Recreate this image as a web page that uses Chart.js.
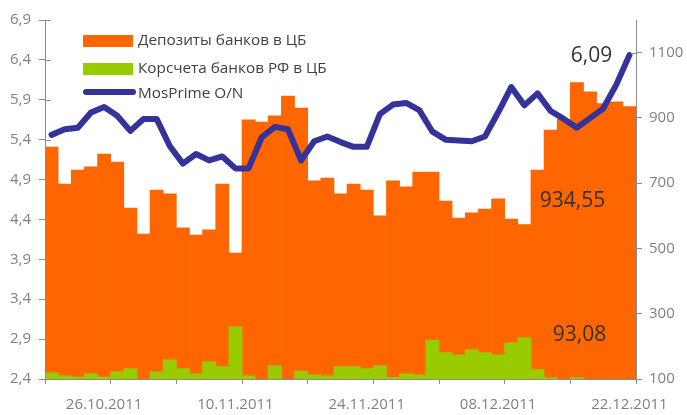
<!DOCTYPE html>
<html>
<head>
<meta charset="utf-8">
<script src="https://cdn.jsdelivr.net/npm/chart.js@4/dist/chart.umd.min.js"></script>
<style>
html,body{margin:0;padding:0;background:#fff;}
#wrap{width:687px;height:415px;position:relative;}
</style>
</head>
<body>
<div id="wrap"><canvas id="c" width="687" height="415"></canvas></div>
<script>
const dates = ['20.10.2011','21.10.2011','24.10.2011','25.10.2011','26.10.2011','27.10.2011','28.10.2011','31.10.2011',
'01.11.2011','02.11.2011','03.11.2011','07.11.2011','08.11.2011','09.11.2011','10.11.2011','11.11.2011',
'14.11.2011','15.11.2011','16.11.2011','17.11.2011','18.11.2011','21.11.2011','22.11.2011','23.11.2011','24.11.2011',
'25.11.2011','28.11.2011','29.11.2011','30.11.2011','01.12.2011','02.12.2011','05.12.2011','06.12.2011','07.12.2011','08.12.2011',
'09.12.2011','12.12.2011','13.12.2011','14.12.2011','15.12.2011','16.12.2011','19.12.2011','20.12.2011','21.12.2011','22.12.2011'];
const shownDates = ['26.10.2011','10.11.2011','24.11.2011','08.12.2011','22.12.2011'];

const deposits = [811,697,740,750,789,765,624,544,679,667,563,541,557,697,486,894,887,906,967,930,707,716,667,697,679,600,707,689,734,734,645,593,609,621,652,590,573,740,863,896,1008,980,944,949,934.55];
const corrAccounts = [119,110,106,116,106,122,132,90,122,159,132,116,153,138,260,110,90,141,90,124,113,110,138,138,132,141,105,116,113,219,181,174,190,181,174,211,227,129,104,90,104,90,90,90,93.08];
const mosPrime = [5.46,5.53,5.55,5.74,5.81,5.70,5.51,5.66,5.66,5.32,5.10,5.22,5.14,5.19,5.04,5.04,5.43,5.56,5.53,5.14,5.38,5.44,5.37,5.31,5.31,5.72,5.84,5.86,5.77,5.50,5.40,5.39,5.38,5.44,5.74,6.06,5.83,5.98,5.76,5.66,5.55,5.67,5.79,6.09,6.46];

const leftTicks = [2.4,2.9,3.4,3.9,4.4,4.9,5.4,5.9,6.4,6.9];
const leftTickLabels = ['2,4','2,9','3,4','3,9','4,4','4,9','5,4','5,9','6,4','6,9'];
const rightTicks = [100,300,500,700,900,1100];
const rightTickLabels = ['100','300','500','700','900','1100'];

const seriesNames = ['Депозиты банков в ЦБ','Корсчета банков РФ в ЦБ','MosPrime O/N'];
const valueLabels = ['6,09','934,55','93,08'];

const ORANGE = '#FF6600', GREEN = '#99CC00', BLUE = '#333399', AXIS = '#8c8c8c', TICKTXT = '#808080';
const FONT = '"Open Sans", "Noto Sans", sans-serif';

const innerTicks = {
  id: 'innerTicks',
  beforeDatasetsDraw(chart) {
    const ctx = chart.ctx, s = chart.scales.y, a = chart.chartArea;
    ctx.save(); ctx.strokeStyle = AXIS; ctx.lineWidth = 1;
    s.ticks.forEach(t => { const y = Math.round(s.getPixelForValue(t.value)) + 0.5;
      ctx.beginPath(); ctx.moveTo(a.left, y); ctx.lineTo(a.left + 6, y); ctx.stroke(); });
    ctx.restore();
  },
  afterDatasetsDraw(chart) {
    const ctx = chart.ctx, s = chart.scales.y2, a = chart.chartArea;
    ctx.save(); ctx.strokeStyle = AXIS; ctx.lineWidth = 1;
    s.ticks.forEach(t => { const y = Math.round(s.getPixelForValue(t.value)) + 0.5;
      ctx.beginPath(); ctx.moveTo(a.right - 5, y); ctx.lineTo(a.right, y); ctx.stroke(); });
    ctx.restore();
  }
};

const legendAndLabels = {
  id: 'legendAndLabels',
  afterDraw(chart) {
    const ctx = chart.ctx;
    ctx.save();
    const bx = 83, bw = 50, tx = 138;
    ctx.fillStyle = ORANGE; ctx.fillRect(bx, 35, bw, 12);
    ctx.fillStyle = GREEN; ctx.fillRect(bx, 63, bw, 12);
    ctx.strokeStyle = BLUE; ctx.lineWidth = 6; ctx.lineCap = 'round';
    ctx.beginPath(); ctx.moveTo(bx + 3, 92); ctx.lineTo(bx + bw, 92); ctx.stroke();
    ctx.fillStyle = '#404040'; ctx.font = '15.3px ' + FONT; ctx.textBaseline = 'middle'; ctx.textAlign = 'left';
    ctx.fillText(seriesNames[0], tx, 41);
    ctx.fillText(seriesNames[1], tx, 69);
    ctx.fillText(seriesNames[2], tx, 94);
    const x = chart.scales.x, y = chart.scales.y, y2 = chart.scales.y2;
    const n = dates.length - 1;
    ctx.fillStyle = '#333333'; ctx.font = '21px ' + FONT; ctx.textAlign = 'center';
    ctx.fillText(valueLabels[0], x.getPixelForValue(n) - 38, y.getPixelForValue(mosPrime[n]) + 1);
    ctx.fillText(valueLabels[1], x.getPixelForValue(n) - 57, y2.getPixelForValue(deposits[n]) + 94);
    ctx.fillText(valueLabels[2], x.getPixelForValue(n) - 50, 335);
    ctx.restore();
  }
};

new Chart(document.getElementById('c'), {
  data: {
    labels: dates,
    datasets: [
      { type: 'line', label: seriesNames[2], data: mosPrime, yAxisID: 'y', borderColor: BLUE, borderWidth: 6,
        pointRadius: 0, tension: 0, borderJoinStyle: 'round', borderCapStyle: 'round', order: 0, clip: false },
      { type: 'bar', label: seriesNames[1], data: corrAccounts, yAxisID: 'y2', backgroundColor: GREEN,
        barPercentage: 1, categoryPercentage: 1, grouped: false, borderWidth: 0, order: 1, clip: 0 },
      { type: 'bar', label: seriesNames[0], data: deposits, yAxisID: 'y2', backgroundColor: ORANGE,
        barPercentage: 1, categoryPercentage: 1, grouped: false, borderWidth: 0, order: 2, clip: 0 }
    ]
  },
  options: {
    responsive: false, animation: false, devicePixelRatio: 1,
    layout: { padding: { top: 20, left: 0, right: 0, bottom: 0 } },
    plugins: { legend: { display: false }, tooltip: { enabled: false } },
    scales: {
      x: {
        type: 'category', offset: true,
        grid: { offset: true, drawOnChartArea: false, tickLength: 5,
          color: c => (c.index === undefined || c.index % 5 === 0) ? AXIS : 'rgba(0,0,0,0)' },
        border: { color: AXIS, z: 1 },
        ticks: { autoSkip: false, maxRotation: 0, minRotation: 0, padding: 12, color: TICKTXT,
          font: { family: FONT, size: 15 },
          callback: (v, i) => shownDates.includes(dates[i]) ? dates[i] : '' },
        afterFit: s => { s.height = 36; }
      },
      y: {
        position: 'left', min: 2.4, max: 6.9,
        afterBuildTicks: s => { s.ticks = leftTicks.map(v => ({ value: v })); },
        grid: { drawOnChartArea: false, tickLength: 6, color: AXIS },
        border: { color: AXIS, z: 1 },
        ticks: { padding: 8, color: TICKTXT, font: { family: FONT, size: 15 },
          callback: (v, i) => leftTickLabels[i] },
        afterFit: s => { s.width = 45; }
      },
      y2: {
        position: 'right', min: 100, max: 1200,
        afterBuildTicks: s => { s.ticks = rightTicks.map(v => ({ value: v })); },
        grid: { drawOnChartArea: false, tickLength: 6, color: AXIS },
        border: { color: AXIS, z: 1 },
        ticks: { padding: 7, color: TICKTXT, font: { family: FONT, size: 15 },
          callback: (v, i) => rightTickLabels[i] },
        afterFit: s => { s.width = 51; }
      }
    }
  },
  plugins: [innerTicks, legendAndLabels]
});
</script>
</body>
</html>
